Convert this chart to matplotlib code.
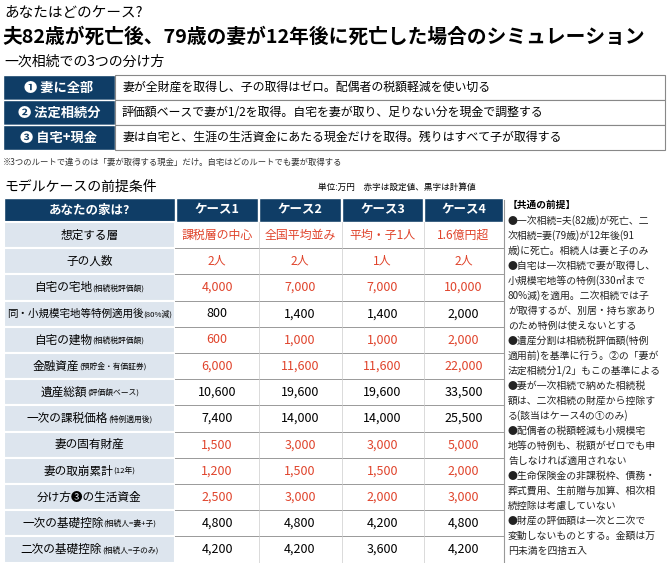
import matplotlib.pyplot as plt
from matplotlib.patches import Rectangle

plt.rcParams['font.family'] = ['Noto Sans CJK JP', 'DejaVu Sans']

NAVY = '#0f3d66'
RED = '#e0442c'
LIGHT = '#dde5ee'

# 一次相続での3つの分け方
ways = ['❶ 妻に全部', '❷ 法定相続分', '❸ 自宅+現金']
way_desc = ['妻が全財産を取得し、子の取得はゼロ。配偶者の税額軽減を使い切る',
            '評価額ベースで妻が1/2を取得。自宅を妻が取り、足りない分を現金で調整する',
            '妻は自宅と、生涯の生活資金にあたる現金だけを取得。残りはすべて子が取得する']

# モデルケース
cases = ['ケース1', 'ケース2', 'ケース3', 'ケース4']
row_main = ['想定する層', '子の人数', '自宅の宅地', '同・小規模宅地等特例適用後', '自宅の建物',
            '金融資産', '遺産総額', '一次の課税価格', '妻の固有財産', '妻の取崩累計',
            '分け方❸の生活資金', '一次の基礎控除', '二次の基礎控除']
row_sub = ['', '', '(相続税評価額)', '(80%減)', '(相続税評価額)', '(預貯金・有価証券)',
           '(評価額ベース)', '(特例適用後)', '', '(12年)', '', '(相続人=妻+子)', '(相続人=子のみ)']
row_red = [True, True, True, False, True, True, False, False, True, True, True, False, False]
row_layer = ['課税層の中心', '全国平均並み', '平均・子1人', '1.6億円超']
row_children = ['2人', '2人', '1人', '2人']
land = [4000, 7000, 7000, 10000]
land_after = [800, 1400, 1400, 2000]
building = [600, 1000, 1000, 2000]
financial = [6000, 11600, 11600, 22000]
estate_total = [10600, 19600, 19600, 33500]
taxable_1st = [7400, 14000, 14000, 25500]
wife_own = [1500, 3000, 3000, 5000]
wife_spend = [1200, 1500, 1500, 2000]
living_fund = [2500, 3000, 2000, 3000]
deduct_1st = [4800, 4800, 4200, 4800]
deduct_2nd = [4200, 4200, 3600, 4200]

notes = ['●一次相続=夫(82歳)が死亡、二', '次相続=妻(79歳)が12年後(91',
         '歳)に死亡。相続人は妻と子のみ', '●自宅は一次相続で妻が取得し、',
         '小規模宅地等の特例(330㎡まで', '80%減)を適用。二次相続では子',
         'が取得するが、別居・持ち家あり', 'のため特例は使えないとする',
         '●遺産分割は相続税評価額(特例', '適用前)を基準に行う。②の「妻が',
         '法定相続分1/2」もこの基準による', '●妻が一次相続で納めた相続税',
         '額は、二次相続の財産から控除す', 'る(該当はケース4の①のみ)',
         '●配偶者の税額軽減も小規模宅', '地等の特例も、税額がゼロでも申',
         '告しなければ適用されない', '●生命保険金の非課税枠、債務・',
         '葬式費用、生前贈与加算、相次相', '続控除は考慮していない',
         '●財産の評価額は一次と二次で', '変動しないものとする。金額は万', '円未満を四捨五入']

table = [row_layer, row_children] + [[f'{v:,}' for v in r] for r in
         [land, land_after, building, financial, estate_total, taxable_1st,
          wife_own, wife_spend, living_fund, deduct_1st, deduct_2nd]]

fig = plt.figure(figsize=(6.7, 5.63), dpi=100)
ax = fig.add_axes([0, 0, 1, 1])
ax.set_xlim(0, 670)
ax.set_ylim(563, 0)
ax.axis('off')

ax.text(4, 13, 'あなたはどのケース?', fontsize=10.5, va='center')
ax.text(2, 37, '夫82歳が死亡後、79歳の妻が12年後に死亡した場合のシミュレーション',
        fontsize=14.2, fontweight='bold', va='center')
ax.text(4, 62, '一次相続での3つの分け方', fontsize=10, va='center')

# table 1
for i in range(3):
    y0 = 75 + i * 25
    ax.add_patch(Rectangle((3, y0), 112, 25, fc=NAVY, ec='white', lw=1))
    ax.add_patch(Rectangle((115, y0), 550, 25, fc='white', ec='#888888', lw=0.8))
    ax.text(59, y0 + 12.5, ways[i], color='white', fontsize=9.5, fontweight='bold',
            ha='center', va='center')
    ax.text(122, y0 + 12.5, way_desc[i], fontsize=8.6, ha='left', va='center')
ax.text(3, 162, '※3つのルートで違うのは「妻が取得する現金」だけ。自宅はどのルートでも妻が取得する',
        fontsize=6, color='#333333', va='center')

ax.text(4, 187, 'モデルケースの前提条件', fontsize=10, va='center')
ax.text(318, 187, '単位:万円　赤字は設定値、黒字は計算値', fontsize=6.2, va='center')

# table 2
lab_x0, lab_x1 = 4, 175
col_edges = [(176, 258), (259, 341), (342, 423), (424, 503)]
hy0, hy1 = 198, 222
rh = 26.2
ax.add_patch(Rectangle((lab_x0, hy0), lab_x1 - lab_x0, hy1 - hy0, fc=NAVY, ec='white', lw=1))
ax.text((lab_x0 + lab_x1) / 2, (hy0 + hy1) / 2, 'あなたの家は?', color='white',
        fontsize=9, fontweight='bold', ha='center', va='center')
for (x0, x1), c in zip(col_edges, cases):
    ax.add_patch(Rectangle((x0, hy0), x1 - x0, hy1 - hy0, fc=NAVY, ec='white', lw=1))
    ax.text((x0 + x1) / 2, (hy0 + hy1) / 2, c, color='white', fontsize=9,
            fontweight='bold', ha='center', va='center')

fig.canvas.draw()
rend = fig.canvas.get_renderer()
for r in range(len(row_main)):
    y0 = hy1 + r * rh
    yc = y0 + rh / 2
    ax.add_patch(Rectangle((lab_x0, y0), lab_x1 - lab_x0, rh, fc=LIGHT, ec='white', lw=1.5))
    ax.plot([lab_x1, 503], [y0 + rh, y0 + rh], color='#999999', lw=0.7)
    fs_main = 7.6 if len(row_main[r]) > 10 else 8.4
    t1 = ax.text(0, yc, row_main[r], fontsize=fs_main, va='center')
    t2 = ax.text(0, yc + 0.5, row_sub[r], fontsize=5.6, va='center')
    w1 = t1.get_window_extent(rend).width
    w2 = t2.get_window_extent(rend).width if row_sub[r] else 0
    xs = (lab_x0 + lab_x1) / 2 - (w1 + w2) / 2
    t1.set_x(xs)
    t2.set_x(xs + w1)
    col = RED if row_red[r] else 'black'
    for (x0, x1), v in zip(col_edges, table[r]):
        ax.text((x0 + x1) / 2, yc, v, color=col, fontsize=8.6 if r < 2 else 9,
                ha='center', va='center')
for x0, x1 in col_edges[1:]:
    ax.plot([x0 - 0.5, x0 - 0.5], [hy1, hy1 + rh * 13], color='#cccccc', lw=0.5)

ax.plot([504, 504], [200, 563], color='#999999', lw=0.8)
ax.text(508, 205, '【共通の前提】', fontsize=7, fontweight='bold', va='center')
for i, line in enumerate(notes):
    ax.text(508, 221 + i * 15.0, line, fontsize=7.1, va='center', color='#222222')

fig.savefig('out.png', dpi=100)
